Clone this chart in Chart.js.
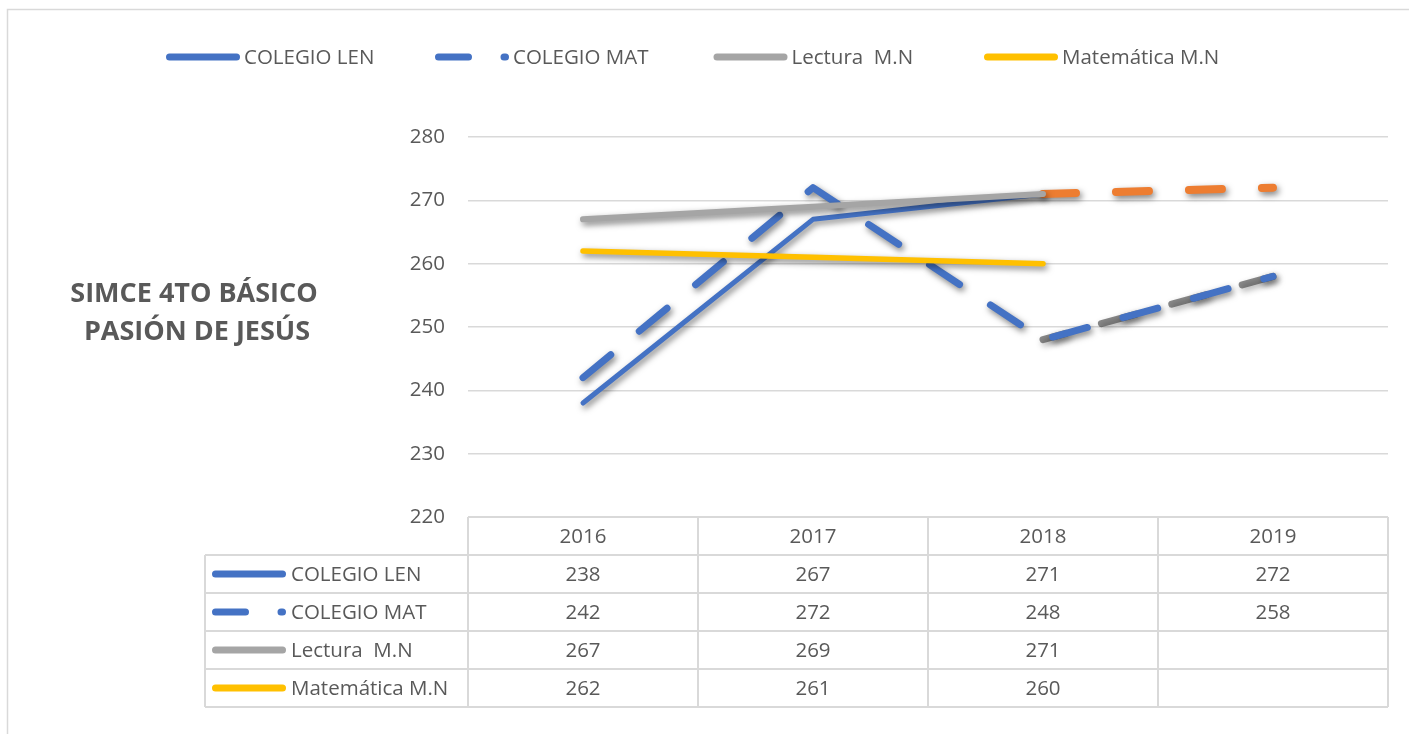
<!DOCTYPE html>
<html>
<head>
<meta charset="utf-8">
<script src="https://cdn.jsdelivr.net/npm/chart.js@4.4.1/dist/chart.umd.min.js"></script>
<style>
  html, body { margin: 0; padding: 0; background: #ffffff; }
  #wrap { width: 1409px; height: 734px; position: relative; }
</style>
</head>
<body>
<div id="wrap"><canvas id="c" width="1409" height="734"></canvas></div>
<script>
// ---- data ----
const categories = ['2016', '2017', '2018', '2019'];
const lenValues = [238, 267, 271, 272];
const matValues = [242, 272, 248, 258];
const lecturaValues = [267, 269, 271, null];
const matematicaValues = [262, 261, 260, null];
const seriesNames = ['COLEGIO LEN', 'COLEGIO MAT', 'Lectura  M.N', 'Matemática M.N'];
const yTicks = [220, 230, 240, 250, 260, 270, 280];
const titleLines = ['SIMCE 4TO BÁSICO', 'PASIÓN DE JESÚS'];

// ---- styles ----
const BLUE = '#4472C4', ORANGE = '#ED7D31', GRAY = '#A5A5A5', YELLOW = '#FFC000';
const TEXT = '#595959', RULE = '#D9D9D9';
const FONT = "'Open Sans', 'DejaVu Sans', sans-serif";
const seriesValues = [lenValues, matValues, lecturaValues, matematicaValues];
const legendStyles = [
  { color: BLUE, dash: [] },
  { color: BLUE, dash: [30, 35.5] },
  { color: GRAY, dash: [] },
  { color: YELLOW, dash: [] }
];
// gray shadow dashes that fill the gaps of the last COLEGIO MAT segment
const matGapShadow = matValues.map((v, i) => (i >= 2 ? v : null));

function sample(ctx, x0, y, len, st) {
  ctx.save();
  ctx.strokeStyle = st.color;
  ctx.lineWidth = 7;
  ctx.lineCap = 'round';
  ctx.setLineDash(st.dash);
  ctx.beginPath();
  ctx.moveTo(x0, y);
  ctx.lineTo(x0 + len, y);
  ctx.stroke();
  ctx.restore();
}

const decor = {
  id: 'decor',
  beforeDraw(chart) {
    const ctx = chart.ctx;
    ctx.save();
    ctx.strokeStyle = RULE;
    ctx.lineWidth = 1.5;
    ctx.beginPath();
    ctx.moveTo(7.5, 734);
    ctx.lineTo(7.5, 9.5);
    ctx.lineTo(1409, 9.5);
    ctx.stroke();
    ctx.restore();
  },
  beforeDatasetsDraw(chart) {
    const ctx = chart.ctx;
    ctx.save();
    ctx.shadowColor = 'rgba(0,0,0,0.5)';
    ctx.shadowBlur = 6;
    ctx.shadowOffsetX = 2;
    ctx.shadowOffsetY = 3;
  },
  afterDatasetsDraw(chart) {
    chart.ctx.restore();
  },
  afterDraw(chart) {
    const ctx = chart.ctx;
    const area = chart.chartArea;
    const xs = chart.scales.x;
    ctx.save();

    // title
    ctx.fillStyle = TEXT;
    ctx.font = "bold 27px " + FONT;
    ctx.textAlign = 'center';
    ctx.textBaseline = 'middle';
    ctx.fillText(titleLines[0], 194, 294);
    ctx.fillText(titleLines[1], 197, 332);

    // top legend
    const legendX = [169.5, 438.5, 717, 987.5];
    ctx.font = "20.5px " + FONT;
    ctx.textAlign = 'left';
    seriesNames.forEach((name, i) => {
      sample(ctx, legendX[i], 57, 67, legendStyles[i]);
      ctx.fillStyle = TEXT;
      ctx.fillText(name, legendX[i] + 74.5, 58);
    });

    // data table
    const top = area.bottom;
    const rowH = 38;
    const rows = seriesNames.length + 1;
    const bottom = top + rows * rowH;
    const step = xs.getPixelForValue(1) - xs.getPixelForValue(0);
    const tableLeft = 205;
    ctx.strokeStyle = RULE;
    ctx.lineWidth = 2;
    ctx.beginPath();
    ctx.moveTo(area.left, top);
    ctx.lineTo(area.right, top);
    for (let r = 1; r <= rows; r++) {
      ctx.moveTo(tableLeft, top + r * rowH);
      ctx.lineTo(area.right, top + r * rowH);
    }
    ctx.moveTo(tableLeft, top + rowH);
    ctx.lineTo(tableLeft, bottom);
    ctx.moveTo(area.left, top);
    ctx.lineTo(area.left, bottom);
    categories.forEach((c, i) => {
      const ex = xs.getPixelForValue(i) + step / 2;
      ctx.moveTo(ex, top);
      ctx.lineTo(ex, bottom);
    });
    ctx.stroke();

    ctx.fillStyle = TEXT;
    ctx.font = "20.5px " + FONT;
    ctx.textAlign = 'center';
    categories.forEach((c, i) => {
      ctx.fillText(c, xs.getPixelForValue(i), top + rowH / 2 + 1);
    });
    seriesNames.forEach((name, s) => {
      const cy = top + (s + 1) * rowH + rowH / 2;
      sample(ctx, 215.5, cy, 67, legendStyles[s]);
      ctx.fillStyle = TEXT;
      ctx.textAlign = 'left';
      ctx.fillText(name, 291, cy + 1);
      ctx.textAlign = 'center';
      seriesValues[s].forEach((v, i) => {
        if (v !== null) ctx.fillText(String(v), xs.getPixelForValue(i), cy + 1);
      });
    });
    ctx.restore();
  }
};

new Chart(document.getElementById('c'), {
  type: 'line',
  data: {
    labels: categories,
    datasets: [
      {
        label: seriesNames[0], data: lenValues, borderColor: BLUE, borderWidth: 5,
        borderCapStyle: 'round', borderJoinStyle: 'round', pointRadius: 0, order: 4,
        segment: {
          borderColor: c => (c.p0DataIndex === 2 ? ORANGE : undefined),
          borderDash: c => (c.p0DataIndex === 2 ? [33, 40] : undefined),
          borderWidth: c => (c.p0DataIndex === 2 ? 8 : undefined)
        }
      },
      {
        label: 'shadow', data: matGapShadow, borderColor: 'rgba(60,60,60,0.6)', borderWidth: 7,
        borderDash: [36, 37], borderDashOffset: 12.4, borderCapStyle: 'round', pointRadius: 0, order: 3.5
      },
      {
        label: seriesNames[1], data: matValues, borderColor: BLUE, borderWidth: 7,
        borderDash: [36, 37], borderCapStyle: 'round', borderJoinStyle: 'round', pointRadius: 0, order: 3
      },
      {
        label: seriesNames[2], data: lecturaValues, borderColor: GRAY, borderWidth: 6,
        borderCapStyle: 'round', borderJoinStyle: 'round', pointRadius: 0, order: 2
      },
      {
        label: seriesNames[3], data: matematicaValues, borderColor: YELLOW, borderWidth: 5.5,
        borderCapStyle: 'round', borderJoinStyle: 'round', pointRadius: 0, order: 1
      }
    ]
  },
  options: {
    responsive: false,
    animation: false,
    devicePixelRatio: 1,
    layout: { padding: { left: 408, right: 21, top: 137, bottom: 217 } },
    plugins: { legend: { display: false }, tooltip: { enabled: false }, title: { display: false } },
    scales: {
      x: { type: 'category', display: false, offset: true },
      y: {
        min: 220, max: 280,
        afterBuildTicks: s => { s.ticks = yTicks.map(v => ({ value: v })); },
        afterFit: s => { s.width = 60; },
        ticks: { color: TEXT, font: { family: FONT, size: 20.5 }, padding: 23 },
        grid: { color: RULE, lineWidth: 1.5, drawTicks: false },
        border: { display: false }
      }
    }
  },
  plugins: [decor]
});
</script>
</body>
</html>
